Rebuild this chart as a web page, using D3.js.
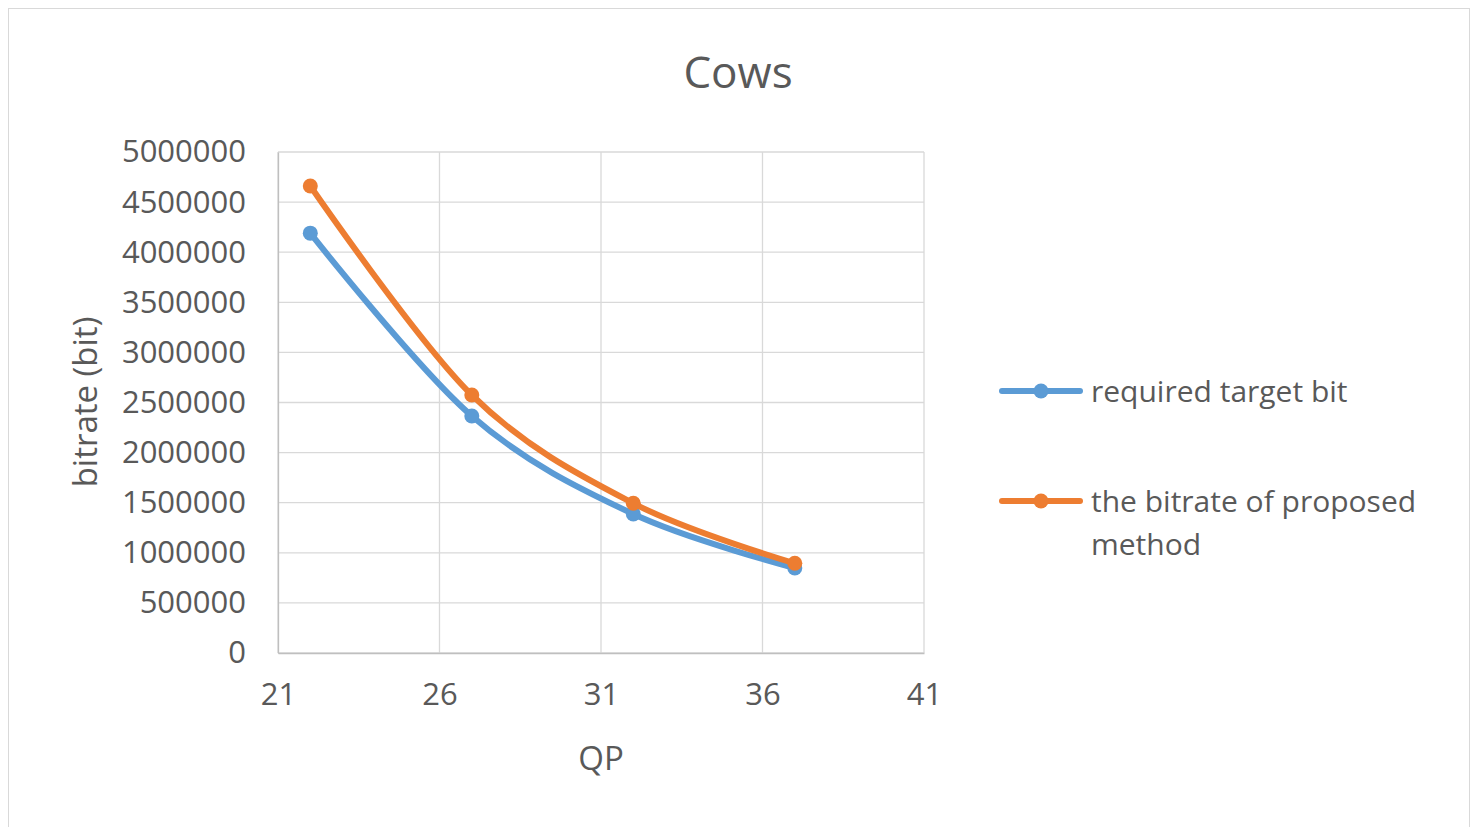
<!DOCTYPE html>
<html>
<head>
<meta charset="utf-8">
<script src="https://cdn.jsdelivr.net/npm/d3@7"></script>
<style>
  body { margin: 0; background: #fff; }
  svg text { font-family: "Open Sans", sans-serif; fill: #595959; }
</style>
</head>
<body>
<svg id="chart"></svg>
<script>
const qp = [22, 27, 32, 37];
const requiredTarget = [4190000, 2365000, 1387000, 848000];
const proposedBitrate = [4660000, 2575000, 1494000, 895000];
const seriesNames = ['required target bit', 'the bitrate of proposed method'];
const seriesColors = ['#5b9bd5', '#ed7d31'];
const xTicks = [21, 26, 31, 36, 41];
const yTicks = d3.range(0, 5000001, 500000);

const W = 1478, H = 827;
const svg = d3.select('#chart').attr('width', W).attr('height', H);

// chart frame
svg.append('rect')
  .attr('x', 8.5).attr('y', 8.5)
  .attr('width', 1461).attr('height', 830)
  .attr('fill', '#fff').attr('stroke', '#d9d9d9');

const margin = { top: 152, left: 278, right: 924, bottom: 653 };

const x = d3.scaleLinear().domain([21, 41]).range([margin.left, margin.right]);
const y = d3.scaleLinear().domain([0, 5000000]).range([margin.bottom, margin.top]);

// gridlines
svg.append('g')
  .selectAll('line')
  .data(yTicks)
  .enter().append('line')
  .attr('x1', margin.left).attr('x2', margin.right)
  .attr('y1', d => y(d)).attr('y2', d => y(d))
  .attr('stroke', '#d9d9d9').attr('stroke-width', 1.3);

svg.append('g')
  .selectAll('line')
  .data(xTicks)
  .enter().append('line')
  .attr('y1', margin.top).attr('y2', margin.bottom)
  .attr('x1', d => x(d)).attr('x2', d => x(d))
  .attr('stroke', '#d9d9d9').attr('stroke-width', 1.3);

// axes
const xAxis = svg.append('g')
  .attr('transform', `translate(0,${margin.bottom})`)
  .call(d3.axisBottom(x).tickValues(xTicks).tickSize(0).tickPadding(30).tickFormat(d3.format('d')));
const yAxis = svg.append('g')
  .attr('transform', `translate(${margin.left},0)`)
  .call(d3.axisLeft(y).tickValues(yTicks).tickSize(0).tickPadding(32).tickFormat(d3.format('d')));

[xAxis, yAxis].forEach(a => {
  a.select('.domain').attr('stroke', '#bfbfbf').attr('stroke-width', 1.3);
  a.selectAll('text').style('font-size', '31px').attr('fill', '#595959');
});

// titles
svg.append('text')
  .attr('x', 738).attr('y', 88)
  .attr('text-anchor', 'middle')
  .style('font-size', '44px')
  .text('Cows');

svg.append('text')
  .attr('x', 601).attr('y', 770)
  .attr('text-anchor', 'middle')
  .style('font-size', '33px')
  .text('QP');

svg.append('text')
  .attr('text-anchor', 'middle')
  .attr('transform', `translate(97,402)rotate(-90)`)
  .style('font-size', '33px')
  .text('bitrate (bit)');

// series
const series = [requiredTarget, proposedBitrate];
const line = d3.line()
  .x((d, i) => x(qp[i]))
  .y(d => y(d))
  .curve(d3.curveCatmullRom.alpha(0));

series.forEach((vals, s) => {
  svg.append('path')
    .datum(vals)
    .attr('d', line)
    .attr('fill', 'none')
    .attr('stroke', seriesColors[s])
    .attr('stroke-width', 6)
    .attr('stroke-linecap', 'round');
  svg.append('g')
    .selectAll('circle')
    .data(vals)
    .enter().append('circle')
    .attr('cx', (d, i) => x(qp[i]))
    .attr('cy', d => y(d))
    .attr('r', 7.5)
    .attr('fill', seriesColors[s]);
});

// legend
const legendY = [391, 501];
seriesNames.forEach((name, s) => {
  const g = svg.append('g').attr('transform', `translate(1002,${legendY[s]})`);
  g.append('line')
    .attr('x1', 0).attr('x2', 78)
    .attr('stroke', seriesColors[s]).attr('stroke-width', 6)
    .attr('stroke-linecap', 'round');
  g.append('circle').attr('cx', 39).attr('r', 7.5).attr('fill', seriesColors[s]);
  const t = g.append('text')
    .attr('x', 89).attr('y', 11)
    .style('font-size', '30px');
  if (s === 1) {
    t.append('tspan').attr('x', 89).text('the bitrate of proposed');
    t.append('tspan').attr('x', 89).attr('dy', 43).text('method');
  } else {
    t.text(name);
  }
});
</script>
</body>
</html>
